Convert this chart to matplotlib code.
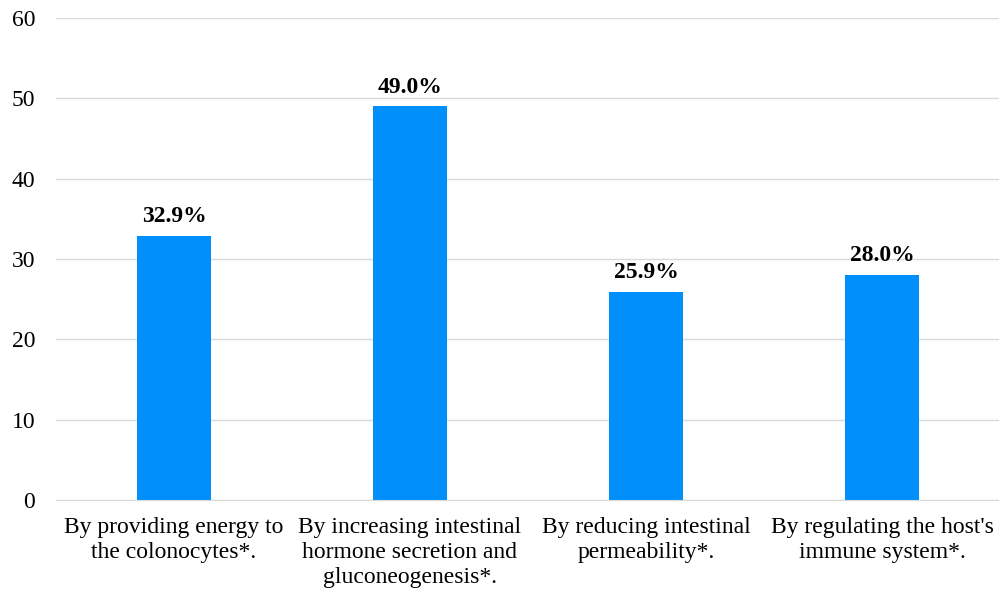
import matplotlib.pyplot as plt

plt.rcParams['font.family'] = ['Liberation Serif', 'DejaVu Serif']

categories = [
    "By providing energy to\nthe colonocytes*.",
    "By increasing intestinal\nhormone secretion and\ngluconeogenesis*.",
    "By reducing intestinal\npermeability*.",
    "By regulating the host's\nimmune system*.",
]
values = [32.9, 49.0, 25.9, 28.0]
yticks = [0, 10, 20, 30, 40, 50, 60]

fig = plt.figure(figsize=(9.99, 5.98), dpi=100)
ax = fig.add_axes([56 / 999, 1 - 500 / 598, 944 / 999, 482 / 598])

x = range(len(values))
ax.bar(x, values, width=0.31, color='#008FFB', zorder=2)

for i, v in zip(x, values):
    ax.text(i, v + 1.1, f"{v:.1f}%", ha='center', va='bottom',
            fontsize=17, fontweight='bold', color='black')

ax.set_xlim(-0.5, 3.5)
ax.set_ylim(0, 60)
ax.set_yticks(yticks)
ax.set_xticks(list(x))
ax.set_xticklabels(categories, fontsize=17, linespacing=1.25)
ax.tick_params(axis='y', labelsize=17, length=0, pad=15)
ax.tick_params(axis='x', length=0, pad=12)
ax.grid(axis='y', color='#D9D9D9', linewidth=1, zorder=0)
for side in ['top', 'right', 'left']:
    ax.spines[side].set_visible(False)
ax.spines['bottom'].set_color('#D9D9D9')

fig.savefig('out.png', dpi=100)
